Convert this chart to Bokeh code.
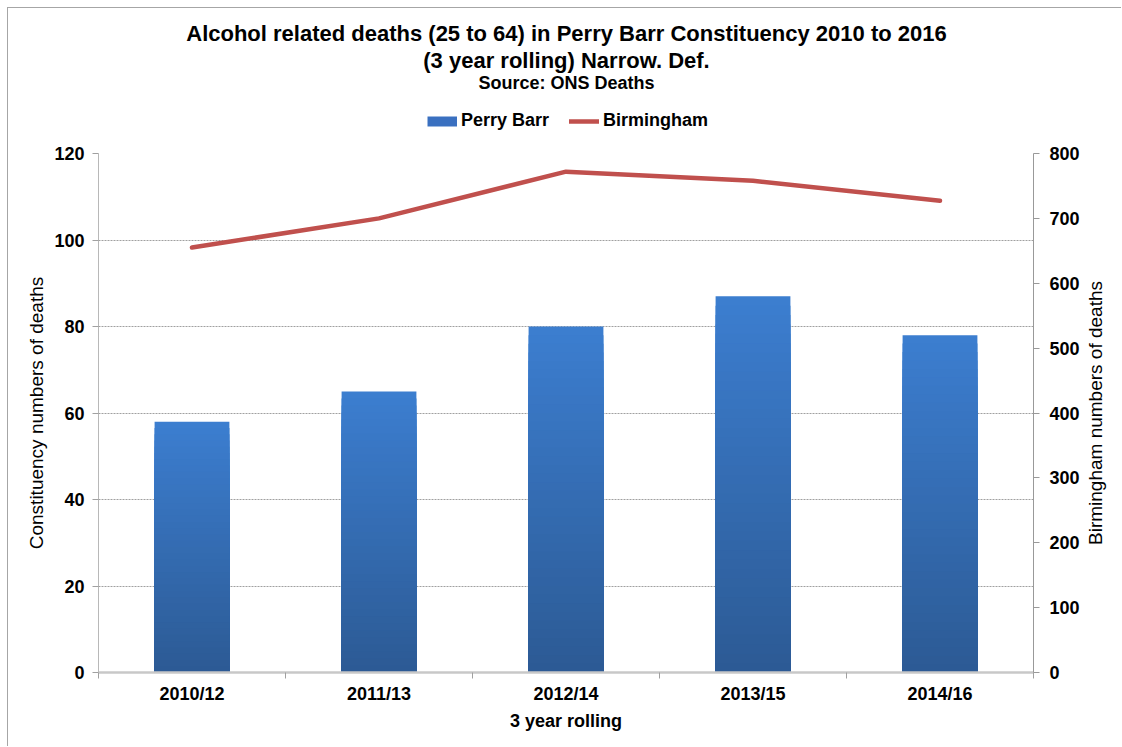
import math
from bokeh.plotting import figure
from bokeh.layouts import column, row
from bokeh.models import (Range1d, LinearAxis, FixedTicker, Label, Legend,
                          LegendItem, ColumnDataSource)
from bokeh.embed import file_html
from bokeh.resources import INLINE

# ---------------- data ----------------
categories = ["2010/12", "2011/13", "2012/14", "2013/15", "2014/16"]
perry_barr = [58, 65, 80, 87, 78]
birmingham = [655, 700, 772, 758, 727]
left_ticks = [0, 20, 40, 60, 80, 100, 120]
right_ticks = [0, 100, 200, 300, 400, 500, 600, 700, 800]

title_lines = ["Alcohol related deaths (25 to 64) in Perry Barr Constituency 2010 to 2016",
               "(3 year rolling) Narrow. Def."]
source_text = "Source: ONS Deaths"
right_label = "Birmingham numbers of deaths"

FONT = "Liberation Sans"
BLUE_KEY = "#3A70C0"
RED = "#C0504D"

# layout sizes (pixels)
W = 1113
HEAD_H = 125
CHART_H = 613
B_LEFT, B_TOP, B_BOTTOM = 90, 20, 74
RFIG_W = 39
CHART_W = W - RFIG_W
B_RIGHT_CHART = 48
B_RIGHT_HEAD = B_RIGHT_CHART + RFIG_W

# ---------------- header figure (titles + legend) ----------------
head = figure(width=W, height=HEAD_H, output_backend="svg", toolbar_location=None,
              x_range=Range1d(0, 1), y_range=Range1d(HEAD_H, 0),
              min_border_left=B_LEFT, min_border_right=B_RIGHT_HEAD,
              min_border_top=0, min_border_bottom=0,
              x_axis_type=None, y_axis_type=None)
head.outline_line_color = None
head.xgrid.visible = False
head.ygrid.visible = False
for txt, ypx, fs in [(title_lines[0], 25, "22px"), (title_lines[1], 52, "22px"),
                     (source_text, 74, "18px")]:
    head.add_layout(Label(x=0.5, y=ypx, text=txt, text_align="center",
                          text_baseline="middle", text_font=FONT, text_font_size=fs,
                          text_font_style="bold", text_color="black"))

key_bar = head.line(x=[float("nan")], y=[float("nan")], line_color=BLUE_KEY, line_width=10)
key_line = head.line(x=[float("nan")], y=[float("nan")], line_color=RED, line_width=4.5,
                     line_cap="round")
legend = Legend(items=[LegendItem(label="Perry Barr", renderers=[key_bar]),
                       LegendItem(label="Birmingham", renderers=[key_line])],
                orientation="horizontal", location=(329, 2),
                glyph_width=30, glyph_height=20, label_standoff=4, spacing=20,
                padding=0, margin=0, border_line_color=None,
                background_fill_alpha=0, label_text_font=FONT,
                label_text_font_size="18px", label_text_font_style="bold",
                label_text_color="black")
head.add_layout(legend)

# ---------------- chart figure ----------------
p = figure(width=CHART_W, height=CHART_H, output_backend="svg", toolbar_location=None,
           x_range=Range1d(-0.5, len(categories) - 0.5),
           y_range=Range1d(left_ticks[0], left_ticks[-1]),
           min_border_left=B_LEFT, min_border_right=B_RIGHT_CHART,
           min_border_top=B_TOP, min_border_bottom=B_BOTTOM)
p.extra_y_ranges = {"bham": Range1d(right_ticks[0], right_ticks[-1])}
p.outline_line_color = None

def mix(c0, c1, f):
    return "#%02x%02x%02x" % tuple(int(round(a + (b - a) * f)) for a, b in zip(c0, c1))

dark = (0x2C, 0x5A, 0x94)
light = (0x3C, 0x7E, 0xD0)
n = 40
xs, tops, cols = [], [], []
for k in range(n, 0, -1):
    for i, v in enumerate(perry_barr):
        xs.append(i)
        tops.append(v * k / n)
        cols.append(mix(dark, light, (k - 0.5) / n))
src = ColumnDataSource(dict(x=xs, top=tops, color=cols))
p.vbar(x="x", top="top", bottom=0, width=0.4, fill_color="color",
       line_color=None, source=src)

p.line(x=list(range(len(categories))), y=birmingham, y_range_name="bham",
       line_color=RED, line_width=4.5, line_cap="round", line_join="round")

p.xgrid.visible = False
p.ygrid.ticker = FixedTicker(ticks=left_ticks[1:])
p.ygrid.grid_line_color = "#a0a0a0"
p.ygrid.grid_line_dash = "2 1"
p.ygrid.grid_line_width = 1

def style_axis(ax, label_bold):
    ax.axis_label_text_font = FONT
    ax.axis_label_text_font_size = "18px" if label_bold else "19px"
    ax.axis_label_text_font_style = "bold" if label_bold else "normal"
    ax.axis_label_text_color = "black"
    ax.major_label_text_font = FONT
    ax.major_label_text_font_size = "18px"
    ax.major_label_text_font_style = "bold"
    ax.major_label_text_color = "black"

yl = p.yaxis[0]
yl.ticker = FixedTicker(ticks=left_ticks)
yl.axis_label = "Constituency numbers of deaths"
style_axis(yl, False)
yl.axis_label_standoff = 4
yl.major_label_standoff = 8
yl.axis_line_color = "#b8b8b8"
yl.major_tick_line_color = "#a0a0a0"
yl.major_tick_out = 6
yl.major_tick_in = 0
yl.minor_tick_line_color = None

yr = LinearAxis(y_range_name="bham", ticker=FixedTicker(ticks=right_ticks))
style_axis(yr, False)
yr.major_label_standoff = 10
yr.axis_line_color = "#999999"
yr.major_tick_line_color = "#999999"
yr.major_tick_out = 6
yr.major_tick_in = 0
yr.minor_tick_line_color = None
p.add_layout(yr, "right")

xa = p.xaxis[0]
idx = list(range(len(categories)))
xa.ticker = FixedTicker(ticks=idx, minor_ticks=[i - 0.5 for i in idx] + [idx[-1] + 0.5])
xa.major_label_overrides = {i: c for i, c in zip(idx, categories)}
xa.axis_label = "3 year rolling"
style_axis(xa, True)
xa.axis_label_standoff = 4
xa.major_label_standoff = 5
xa.axis_line_color = "#c8c8c8"
xa.axis_line_width = 2.5
xa.major_tick_line_color = None
xa.major_tick_out = 0
xa.major_tick_in = 0
xa.minor_tick_line_color = "#a0a0a0"
xa.minor_tick_out = 6
xa.minor_tick_in = 0

# ---------------- right-hand axis title (reads bottom to top) ----------------
rfig = figure(width=RFIG_W, height=CHART_H, output_backend="svg", toolbar_location=None,
              x_range=Range1d(0, RFIG_W), y_range=Range1d(0, 1),
              min_border_left=0, min_border_right=0,
              min_border_top=B_TOP, min_border_bottom=B_BOTTOM,
              x_axis_type=None, y_axis_type=None)
rfig.outline_line_color = None
rfig.xgrid.visible = False
rfig.ygrid.visible = False
rfig.add_layout(Label(x=13, y=0.5, text=right_label, angle=math.pi / 2,
                      text_align="center", text_baseline="middle",
                      text_font=FONT, text_font_size="19px", text_color="black"))

layout = column(head, row(p, rfig, spacing=0), spacing=0)
layout.styles = {"margin": "7px 0 0 7px",
                 "border-top": "1px solid #a6a6a6", "border-left": "1px solid #a6a6a6"}

open("out.html", "w").write(file_html(layout, INLINE))
